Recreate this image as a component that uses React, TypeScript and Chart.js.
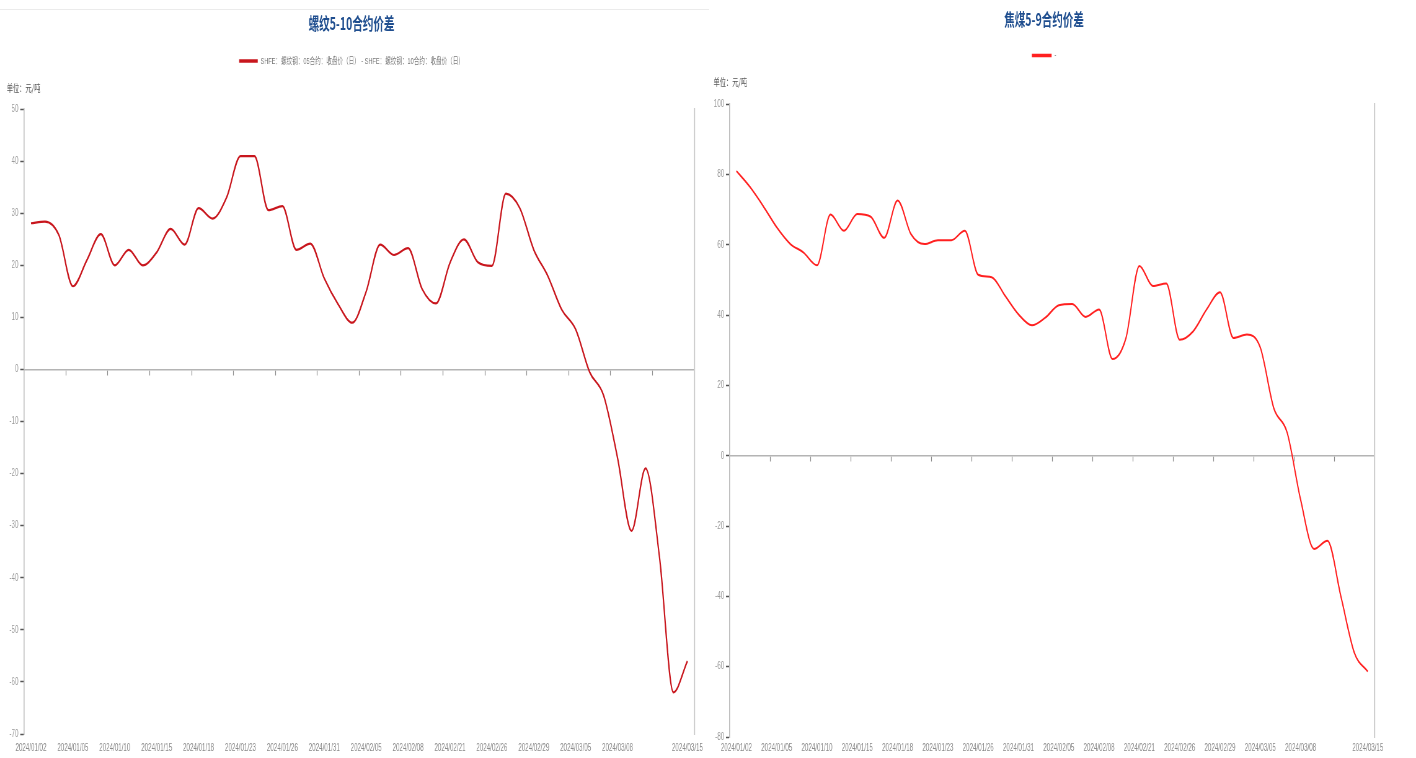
import React, { useEffect, useRef } from 'react';
import { Chart, registerables } from 'chart.js';

Chart.register(...registerables);

// Trading days 2024/01/02 - 2024/03/15
const dates = [
  '2024/01/02', '2024/01/03', '2024/01/04', '2024/01/05', '2024/01/08', '2024/01/09', '2024/01/10', '2024/01/11',
  '2024/01/12', '2024/01/15', '2024/01/16', '2024/01/17', '2024/01/18', '2024/01/19', '2024/01/22', '2024/01/23',
  '2024/01/24', '2024/01/25', '2024/01/26', '2024/01/29', '2024/01/30', '2024/01/31', '2024/02/01', '2024/02/02',
  '2024/02/05', '2024/02/06', '2024/02/07', '2024/02/08', '2024/02/19', '2024/02/20', '2024/02/21', '2024/02/22',
  '2024/02/23', '2024/02/26', '2024/02/27', '2024/02/28', '2024/02/29', '2024/03/01', '2024/03/04', '2024/03/05',
  '2024/03/06', '2024/03/07', '2024/03/08', '2024/03/11', '2024/03/12', '2024/03/13', '2024/03/14', '2024/03/15',
];

// 螺纹钢 05 - 10 合约价差 (元/吨)
const rebarSpread = [
  28.1, 28.4, 25.8, 16, 21, 26, 20, 23, 20, 22.5, 27, 24, 31, 29, 33, 41,
  41, 30.6, 31.4, 23, 24.2, 17.5, 12.5, 9, 15, 24, 22, 23.3, 15.5, 12.7, 20.5, 25,
  20.6, 19.9, 33.8, 31, 23, 18, 11.5, 7.7, -0.5, -5, -17, -31, -19, -36, -62, -56,
];

// 焦煤 5 - 9 合约价差 (元/吨)
const cokingSpread = [
  81, 76.5, 71, 65, 60.3, 57.8, 54.2, 68.6, 64, 68.8, 68, 62, 72.6, 63, 60.2, 61.3,
  61.3, 64, 51.5, 50.8, 45.5, 40.2, 37.1, 39.3, 42.8, 43.2, 39.5, 41.6, 27.5, 33.5, 54, 48.3,
  49, 33, 35.4, 41.6, 46.5, 33.5, 34.5, 30.8, 13.6, 6.6, -12.5, -26.5, -24.2, -40, -56, -61.4,
];

const rebarTitle = '螺纹5-10合约价差';
const cokingTitle = '焦煤5-9合约价差';
const rebarLegend = 'SHFE：螺纹钢：05合约：收盘价（日） - SHFE：螺纹钢：10合约：收盘价（日）';
const cokingLegend = '-';
const unitText = '单位：元/吨';

const rebarAxis = { min: -70, max: 50, step: 10 };
const cokingAxis = { min: -80, max: 100, step: 20 };

const LAST = dates.length - 1;
const labelIdx = dates.map((_, i) => i).filter((i) => (i % 3 === 0 && LAST - i >= 3) || i === LAST);
const zeroTickIdx = dates.map((_, i) => i).filter((i) => i > 0 && i % 3 === 0).map((i) => i - 0.5);

const SQUEEZE = 0.62;
const VIEW_W = 708;
const VIEW_H = 758;
const CW = Math.round(VIEW_W / SQUEEZE);

const LATIN = "'Liberation Sans', 'Noto Sans CJK SC', sans-serif";
const CJK = "'Noto Sans CJK SC', 'Liberation Sans', sans-serif";

type Layout = {
  padL: number; padR: number; yWidth: number;
  titlePad: { top: number; bottom: number };
  subPad: { top: number; bottom: number };
  xHeight: number; xPad: number; boxWidth: number;
};

function makeConfig(title: string, legend: string, data: number[], color: string, lineW: number,
  axis: { min: number; max: number; step: number }, lay: Layout): any {
  return {
    type: 'line',
    data: {
      labels: dates,
      datasets: [{
        label: legend,
        data,
        borderColor: color,
        backgroundColor: color,
        borderWidth: lineW,
        pointRadius: 0,
        pointHoverRadius: 0,
        cubicInterpolationMode: 'monotone',
        fill: false,
        xAxisID: 'x',
        yAxisID: 'y',
      }],
    },
    options: {
      responsive: false,
      devicePixelRatio: 1,
      animation: false,
      layout: { padding: { left: lay.padL, right: lay.padR, top: 0, bottom: 0 } },
      plugins: {
        tooltip: { enabled: false },
        title: {
          display: true, text: title, color: '#1f4e8f',
          font: { family: CJK, size: 17, weight: 'bold' },
          padding: lay.titlePad,
        },
        legend: {
          display: true, weight: 1800,
          labels: {
            boxWidth: lay.boxWidth, boxHeight: 3.5, padding: 10, color: '#7a7a7a',
            font: { family: LATIN, size: 9 },
            generateLabels: (chart: any) =>
              Chart.defaults.plugins.legend.labels.generateLabels(chart).map((l: any) => ({ ...l, lineWidth: 0 })),
          },
        },
        subtitle: {
          display: true, text: unitText, align: 'start', color: '#555',
          font: { family: CJK, size: 10 },
          padding: lay.subPad,
        },
      },
      scales: {
        x: {
          type: 'category', position: 'bottom', offset: true,
          grid: { display: false, drawTicks: false, offset: true },
          border: { display: false },
          afterBuildTicks: (s: any) => { s.ticks = s.ticks.filter((t: any) => labelIdx.includes(t.value)); },
          afterFit: (s: any) => { s.height = lay.xHeight; },
          ticks: {
            autoSkip: false, maxRotation: 0, minRotation: 0, padding: lay.xPad,
            color: '#8a8a8a', font: { family: LATIN, size: 10 },
          },
        },
        x2: {
          type: 'linear', axis: 'x', position: { y: 0 },
          min: -0.5, max: dates.length - 0.5,
          afterBuildTicks: (s: any) => { s.ticks = zeroTickIdx.map((v) => ({ value: v })); },
          ticks: { display: false },
          grid: { display: true, drawOnChartArea: false, drawTicks: true, tickLength: 5, tickColor: '#8c8c8c', tickWidth: 1.2 },
          border: { display: true, color: '#b4b4b4', width: 1.5 },
        },
        y: {
          type: 'linear', position: 'left',
          min: axis.min, max: axis.max,
          afterFit: (s: any) => { s.width = lay.yWidth; },
          ticks: { stepSize: axis.step, padding: 3, color: '#9a9a9a', font: { family: LATIN, size: 10 } },
          grid: { display: true, drawOnChartArea: false, drawTicks: true, tickLength: 6, tickColor: '#555', tickWidth: 1.5 },
          border: { display: true, color: '#bdbdbd', width: 1.6 },
        },
        yR: {
          type: 'linear', axis: 'y', position: 'right',
          ticks: { display: false },
          grid: { display: false, drawTicks: false },
          border: { display: true, color: '#cfcfcf', width: 2.2 },
        },
      },
    },
  };
}

function SpreadChart({ left, config }: { left: number; config: any }) {
  const ref = useRef<HTMLCanvasElement | null>(null);
  useEffect(() => {
    if (!ref.current) return;
    const chart = new Chart(ref.current, config);
    return () => chart.destroy();
  }, []);
  return (
    <canvas
      ref={ref}
      width={CW}
      height={VIEW_H}
      style={{ position: 'absolute', left, top: 0, width: VIEW_W, height: VIEW_H, display: 'block' }}
    />
  );
}

const rebarLayout: Layout = {
  padL: 11, padR: 19, yWidth: 27.7,
  titlePad: { top: 13.2, bottom: 13 },
  subPad: { top: 6.3, bottom: 15.3 },
  xHeight: 24, xPad: 8, boxWidth: 30,
};

const cokingLayout: Layout = {
  padL: 9, padR: 67, yWidth: 26,
  titlePad: { top: 9.2, bottom: 11.4 },
  subPad: { top: 5.9, bottom: 16.3 },
  xHeight: 21, xPad: 5, boxWidth: 32,
};

export default function App() {
  const rebarCfg = makeConfig(rebarTitle, rebarLegend, rebarSpread, '#c8161d', 2.2, rebarAxis, rebarLayout);
  const cokingCfg = makeConfig(cokingTitle, cokingLegend, cokingSpread, '#ff2020', 2, cokingAxis, cokingLayout);
  return (
    <div style={{ position: 'fixed', left: 0, top: 0, width: 1416, height: 758, background: '#fff', overflow: 'hidden' }}>
      <div style={{ position: 'absolute', left: 0, top: 9, width: 709, height: 1, background: '#ebebeb' }} />
      <SpreadChart left={0} config={rebarCfg} />
      <SpreadChart left={708} config={cokingCfg} />
    </div>
  );
}
